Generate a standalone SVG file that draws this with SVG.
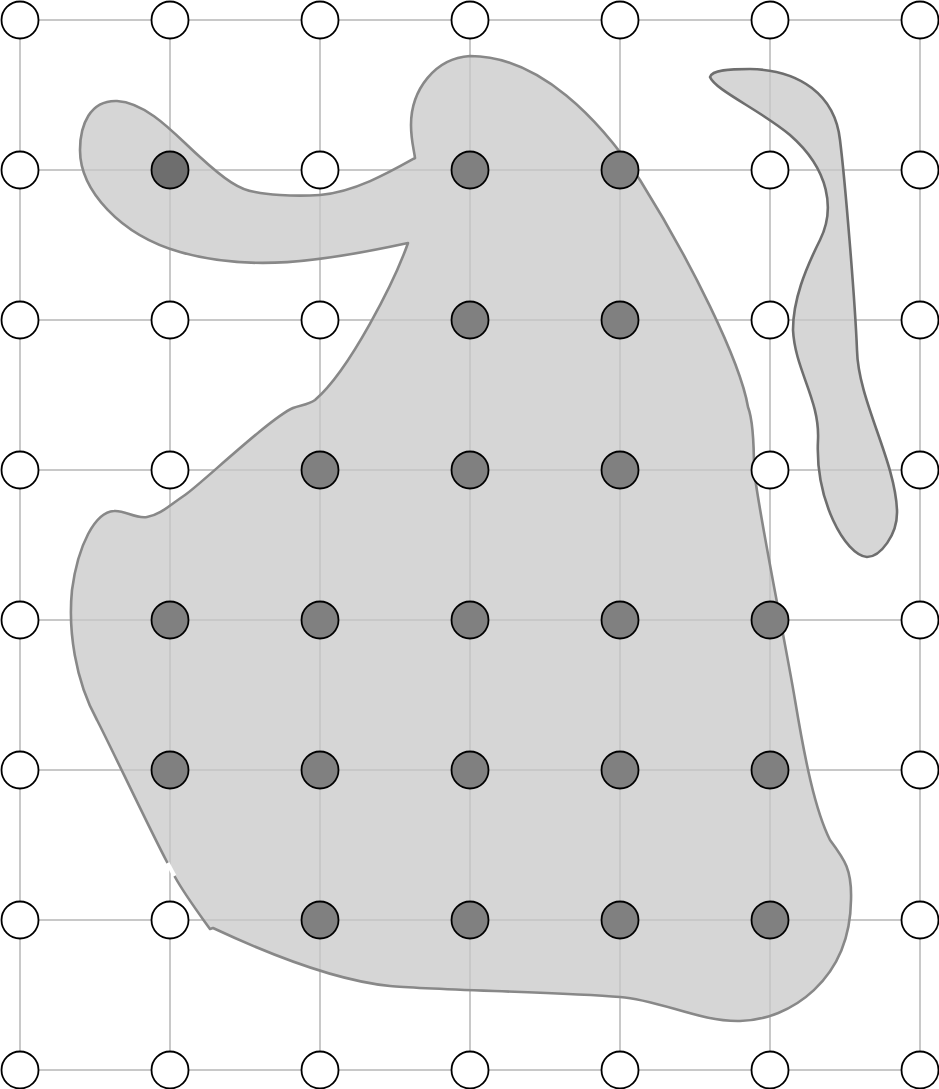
<svg xmlns="http://www.w3.org/2000/svg" xmlns:xlink="http://www.w3.org/1999/xlink" width="939" height="1089" viewBox="0 0 939 1089">
<style>
.grid{stroke:#c8c8c8;stroke-width:2;fill:none}
.o{fill:#ffffff;stroke:#000;stroke-width:1.8}
.f{fill:#808080;stroke:#000;stroke-width:1.8}
.fd{fill:#6e6e6e;stroke:#000;stroke-width:1.8}
.area{fill:#d6d6d6;stroke:none}
.edge1{fill:none;stroke:#888888;stroke-width:2.6;stroke-linejoin:round}
.edge2{fill:none;stroke:#6e6e6e;stroke-width:2.6;stroke-linejoin:round}
</style>
<defs>
<path id="main" d="M470,56 C435,58 411,90 411,125 C411,140 414,150 415,158 C390,172 355,192 320,195 C290,197 265,194 255,192 C240,190 225,180 200,157 C180,140 150,103 117,101 C90,100 80,125 80,150 C80,190 120,235 180,252 C250,272 320,262 408,243 C395,280 350,370 315,400 C308,405 300,405 293,408 C270,418 200,485 185,495 C170,505 160,515 147,517 C135,519 125,510 114,511 C95,512 78,545 72,590 C68,630 75,680 97,720 C110,745 150,830 167,862 L175,877 C185,895 200,915 210,929 L213,928 C260,950 330,980 390,986 C430,990 560,992 620,997 C660,1000 700,1022 740,1021 C790,1020 850,980 851,900 C852,870 845,860 830,840 C815,810 805,760 795,700 C785,640 760,520 754,470 C754,440 753,420 748,407 C740,360 690,260 640,180 C600,120 540,56 470,56 Z"/>
<path id="side" d="M710,77 C712,70 730,69 750,69 C800,70 835,95 840,140 C845,180 855,300 857,350 C858,400 895,460 897,510 C898,535 880,557 867,557 C845,555 815,500 818,440 C820,400 795,370 793,330 C793,300 805,270 820,240 C835,210 830,170 790,135 C760,110 715,90 710,77 Z"/>
</defs>
<g id="regions">
<use xlink:href="#main" class="area"/>
<use xlink:href="#side" class="area"/>
</g>
<g id="connectors" class="grid">
<path d="M20,20H920M20,170H920M20,320H920M20,470H920M20,620H920M20,770H920M20,920H920M20,1070H920"/>
<path d="M20,20V1070M170,20V1070M320,20V1070M470,20V1070M620,20V1070M770,20V1070M920,20V1070"/>
</g>
<g id="outlines">
<use xlink:href="#main" class="edge1"/>
<use xlink:href="#side" class="edge2"/>
<path d="M167.5,863 L174.5,876" stroke="#ffffff" stroke-width="4" fill="none"/>
</g>
<g id="n-0-0"><circle class="o" cx="20" cy="20" r="18.5"/></g>
<g id="n-0-1"><circle class="o" cx="170" cy="20" r="18.5"/></g>
<g id="n-0-2"><circle class="o" cx="320" cy="20" r="18.5"/></g>
<g id="n-0-3"><circle class="o" cx="470" cy="20" r="18.5"/></g>
<g id="n-0-4"><circle class="o" cx="620" cy="20" r="18.5"/></g>
<g id="n-0-5"><circle class="o" cx="770" cy="20" r="18.5"/></g>
<g id="n-0-6"><circle class="o" cx="920" cy="20" r="18.5"/></g>
<g id="n-1-0"><circle class="o" cx="20" cy="170" r="18.5"/></g>
<g id="n-1-1"><circle class="fd" cx="170" cy="170" r="18.5"/></g>
<g id="n-1-2"><circle class="o" cx="320" cy="170" r="18.5"/></g>
<g id="n-1-3"><circle class="f" cx="470" cy="170" r="18.5"/></g>
<g id="n-1-4"><circle class="f" cx="620" cy="170" r="18.5"/></g>
<g id="n-1-5"><circle class="o" cx="770" cy="170" r="18.5"/></g>
<g id="n-1-6"><circle class="o" cx="920" cy="170" r="18.5"/></g>
<g id="n-2-0"><circle class="o" cx="20" cy="320" r="18.5"/></g>
<g id="n-2-1"><circle class="o" cx="170" cy="320" r="18.5"/></g>
<g id="n-2-2"><circle class="o" cx="320" cy="320" r="18.5"/></g>
<g id="n-2-3"><circle class="f" cx="470" cy="320" r="18.5"/></g>
<g id="n-2-4"><circle class="f" cx="620" cy="320" r="18.5"/></g>
<g id="n-2-5"><circle class="o" cx="770" cy="320" r="18.5"/></g>
<g id="n-2-6"><circle class="o" cx="920" cy="320" r="18.5"/></g>
<g id="n-3-0"><circle class="o" cx="20" cy="470" r="18.5"/></g>
<g id="n-3-1"><circle class="o" cx="170" cy="470" r="18.5"/></g>
<g id="n-3-2"><circle class="f" cx="320" cy="470" r="18.5"/></g>
<g id="n-3-3"><circle class="f" cx="470" cy="470" r="18.5"/></g>
<g id="n-3-4"><circle class="f" cx="620" cy="470" r="18.5"/></g>
<g id="n-3-5"><circle class="o" cx="770" cy="470" r="18.5"/></g>
<g id="n-3-6"><circle class="o" cx="920" cy="470" r="18.5"/></g>
<g id="n-4-0"><circle class="o" cx="20" cy="620" r="18.5"/></g>
<g id="n-4-1"><circle class="f" cx="170" cy="620" r="18.5"/></g>
<g id="n-4-2"><circle class="f" cx="320" cy="620" r="18.5"/></g>
<g id="n-4-3"><circle class="f" cx="470" cy="620" r="18.5"/></g>
<g id="n-4-4"><circle class="f" cx="620" cy="620" r="18.5"/></g>
<g id="n-4-5"><circle class="f" cx="770" cy="620" r="18.5"/></g>
<g id="n-4-6"><circle class="o" cx="920" cy="620" r="18.5"/></g>
<g id="n-5-0"><circle class="o" cx="20" cy="770" r="18.5"/></g>
<g id="n-5-1"><circle class="f" cx="170" cy="770" r="18.5"/></g>
<g id="n-5-2"><circle class="f" cx="320" cy="770" r="18.5"/></g>
<g id="n-5-3"><circle class="f" cx="470" cy="770" r="18.5"/></g>
<g id="n-5-4"><circle class="f" cx="620" cy="770" r="18.5"/></g>
<g id="n-5-5"><circle class="f" cx="770" cy="770" r="18.5"/></g>
<g id="n-5-6"><circle class="o" cx="920" cy="770" r="18.5"/></g>
<g id="n-6-0"><circle class="o" cx="20" cy="920" r="18.5"/></g>
<g id="n-6-1"><circle class="o" cx="170" cy="920" r="18.5"/></g>
<g id="n-6-2"><circle class="f" cx="320" cy="920" r="18.5"/></g>
<g id="n-6-3"><circle class="f" cx="470" cy="920" r="18.5"/></g>
<g id="n-6-4"><circle class="f" cx="620" cy="920" r="18.5"/></g>
<g id="n-6-5"><circle class="f" cx="770" cy="920" r="18.5"/></g>
<g id="n-6-6"><circle class="o" cx="920" cy="920" r="18.5"/></g>
<g id="n-7-0"><circle class="o" cx="20" cy="1070" r="18.5"/></g>
<g id="n-7-1"><circle class="o" cx="170" cy="1070" r="18.5"/></g>
<g id="n-7-2"><circle class="o" cx="320" cy="1070" r="18.5"/></g>
<g id="n-7-3"><circle class="o" cx="470" cy="1070" r="18.5"/></g>
<g id="n-7-4"><circle class="o" cx="620" cy="1070" r="18.5"/></g>
<g id="n-7-5"><circle class="o" cx="770" cy="1070" r="18.5"/></g>
<g id="n-7-6"><circle class="o" cx="920" cy="1070" r="18.5"/></g>
</svg>
